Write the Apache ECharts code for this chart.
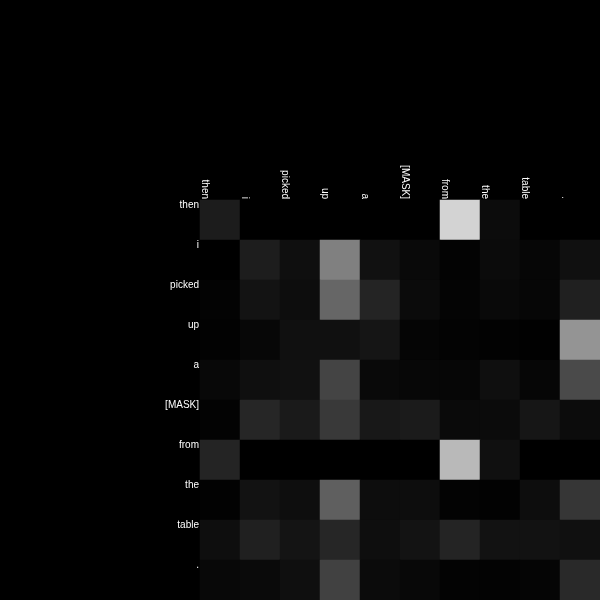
<!DOCTYPE html>
<html>
<head>
<meta charset="utf-8">
<script src="https://cdn.jsdelivr.net/npm/echarts@6/dist/echarts.min.js"></script>
<style>html,body{margin:0;padding:0;background:#000;}#c{width:600px;height:600px;}</style>
</head>
<body>
<div id="c"></div>
<script>
var tokens = ['then', 'i', 'picked', 'up', 'a', '[MASK]', 'from', 'the', 'table', '.'];
// attention weights (row = query token, column = key token), read as gray intensity 0..1
var rowThen   = [0.110, 0.000, 0.000, 0.000, 0.000, 0.000, 0.827, 0.047, 0.000, 0.000];
var rowI      = [0.000, 0.114, 0.059, 0.502, 0.067, 0.035, 0.012, 0.043, 0.024, 0.063];
var rowPicked = [0.012, 0.075, 0.051, 0.400, 0.141, 0.043, 0.016, 0.035, 0.024, 0.125];
var rowUp     = [0.008, 0.027, 0.063, 0.063, 0.082, 0.020, 0.012, 0.008, 0.004, 0.580];
var rowA      = [0.031, 0.059, 0.067, 0.267, 0.035, 0.027, 0.024, 0.059, 0.024, 0.290];
var rowMask   = [0.012, 0.149, 0.102, 0.224, 0.094, 0.106, 0.039, 0.043, 0.086, 0.047];
var rowFrom   = [0.141, 0.000, 0.000, 0.000, 0.000, 0.000, 0.725, 0.063, 0.000, 0.000];
var rowThe    = [0.008, 0.071, 0.055, 0.373, 0.051, 0.051, 0.012, 0.008, 0.051, 0.212];
var rowTable  = [0.055, 0.125, 0.078, 0.149, 0.055, 0.075, 0.141, 0.071, 0.071, 0.063];
var rowDot    = [0.031, 0.039, 0.059, 0.255, 0.043, 0.031, 0.012, 0.012, 0.020, 0.161];
var rows = [rowThen, rowI, rowPicked, rowUp, rowA, rowMask, rowFrom, rowThe, rowTable, rowDot];

var data = [];
rows.forEach(function (r, yi) {
  r.forEach(function (v, xi) { data.push([xi, yi, v]); });
});
var labelTicks = tokens.concat(['']);

var chart = echarts.init(document.getElementById('c'), null, {renderer: 'canvas'});
var font = {color: '#ffffff', fontSize: 10, fontFamily: '"Liberation Sans", Arial, sans-serif'};
chart.setOption({
  backgroundColor: '#000000',
  animation: false,
  grid: {left: 200, top: 200, width: 400, height: 400},
  xAxis: [
    {type: 'category', data: tokens, position: 'top', boundaryGap: true,
     axisLine: {show: false}, axisTick: {show: false}, axisLabel: {show: false}, splitLine: {show: false}},
    {type: 'category', data: labelTicks, position: 'top', boundaryGap: false,
     axisLine: {show: false}, axisTick: {show: false}, splitLine: {show: false},
     axisLabel: Object.assign({rotate: 90, margin: 1, verticalAlign: 'bottom', interval: 0}, font)}
  ],
  yAxis: [
    {type: 'category', data: tokens, inverse: true, boundaryGap: true,
     axisLine: {show: false}, axisTick: {show: false}, axisLabel: {show: false}, splitLine: {show: false}},
    {type: 'category', data: labelTicks, inverse: true, boundaryGap: false, position: 'left',
     axisLine: {show: false}, axisTick: {show: false}, splitLine: {show: false},
     axisLabel: Object.assign({margin: 1, verticalAlign: 'top', interval: 0}, font)}
  ],
  visualMap: {show: false, min: 0, max: 1, dimension: 2, inRange: {color: ['#000000', '#ffffff']}},
  series: [{type: 'heatmap', data: data, xAxisIndex: 0, yAxisIndex: 0, itemStyle: {borderWidth: 0}}]
});
</script>
</body>
</html>
